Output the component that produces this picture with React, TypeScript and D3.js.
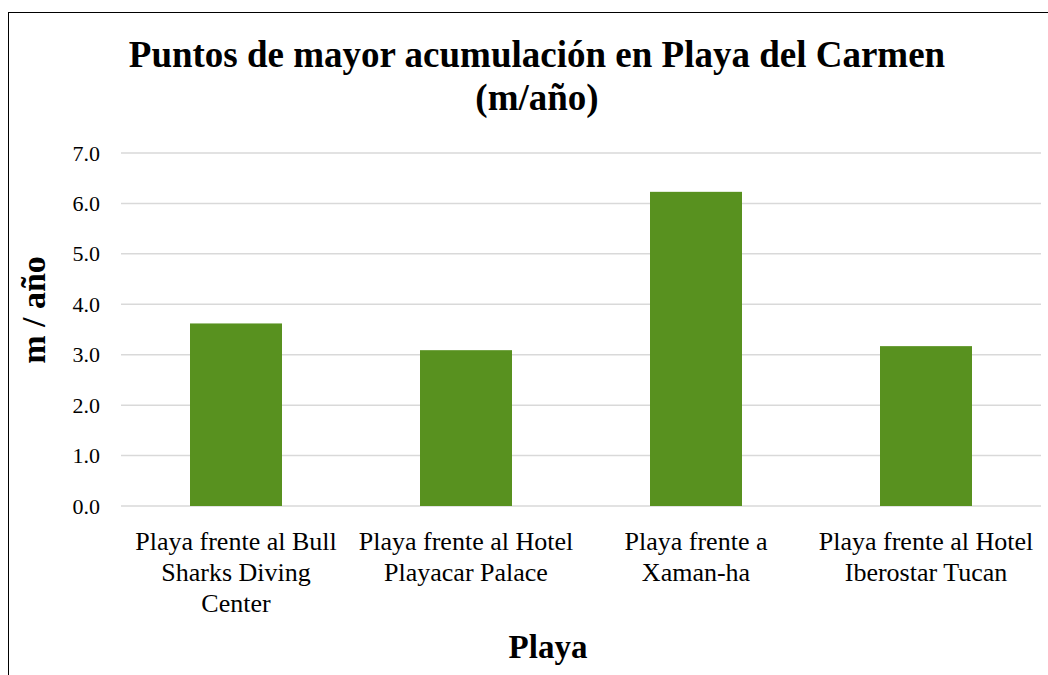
import React from "react";
import * as d3 from "d3";

const categories: string[][] = [
  ["Playa frente al Bull", "Sharks Diving", "Center"],
  ["Playa frente al Hotel", "Playacar Palace"],
  ["Playa frente a", "Xaman-ha"],
  ["Playa frente al Hotel", "Iberostar Tucan"],
];
const values: number[] = [3.62, 3.09, 6.23, 3.17];
const yTicks: number[] = [0, 1, 2, 3, 4, 5, 6, 7];
const titleLines: string[] = ["Puntos de mayor acumulación en Playa del Carmen", "(m/año)"];
const xTitle = "Playa";
const yTitle = "m / año";

const W = 1048;
const H = 675;
const FONT = "'Liberation Serif', 'Times New Roman', serif";

export default function App() {
  const left = 121, right = 1041, top = 153, bottom = 506;
  const x = d3.scaleBand<number>().domain(d3.range(values.length)).range([left, right]).paddingInner(0.6).paddingOuter(0.3);
  const y = d3.scaleLinear().domain([0, 7]).range([bottom, top]);
  return (
    <svg width={W} height={H} style={{ position: "absolute", left: 0, top: 0, background: "#fff" }}>
      <rect x={8.5} y={12.5} width={1200} height={800} fill="#fff" stroke="#000" strokeWidth={1} />
      {titleLines.map((t, i) => (
        <text key={i} x={537} y={67 + i * 43} textAnchor="middle" fontFamily={FONT} fontWeight="bold" fontSize={37} fill="#000">{t}</text>
      ))}
      {yTicks.map((t) => (
        <g key={t}>
          <line x1={left} x2={right} y1={y(t)} y2={y(t)} stroke="#d9d9d9" strokeWidth={1.5} />
          <text x={100} y={y(t) + 7.5} textAnchor="end" fontFamily={FONT} fontSize={22} fill="#000">{t.toFixed(1)}</text>
        </g>
      ))}
      {values.map((v, i) => (
        <rect key={i} x={x(i)!} y={y(v)} width={x.bandwidth()} height={y(0) - y(v)} fill="#58911f" />
      ))}
      {categories.map((lines, i) => (
        <text key={i} textAnchor="middle" fontFamily={FONT} fontSize={26} fill="#000">
          {lines.map((l, j) => (
            <tspan key={j} x={x(i)! + x.bandwidth() / 2} y={550 + j * 31}>{l}</tspan>
          ))}
        </text>
      ))}
      <text x={548} y={658} textAnchor="middle" fontFamily={FONT} fontWeight="bold" fontSize={33} fill="#000">{xTitle}</text>
      <text transform={`translate(45,310) rotate(-90)`} textAnchor="middle" fontFamily={FONT} fontWeight="bold" fontSize={34} fill="#000">{yTitle}</text>
    </svg>
  );
}
